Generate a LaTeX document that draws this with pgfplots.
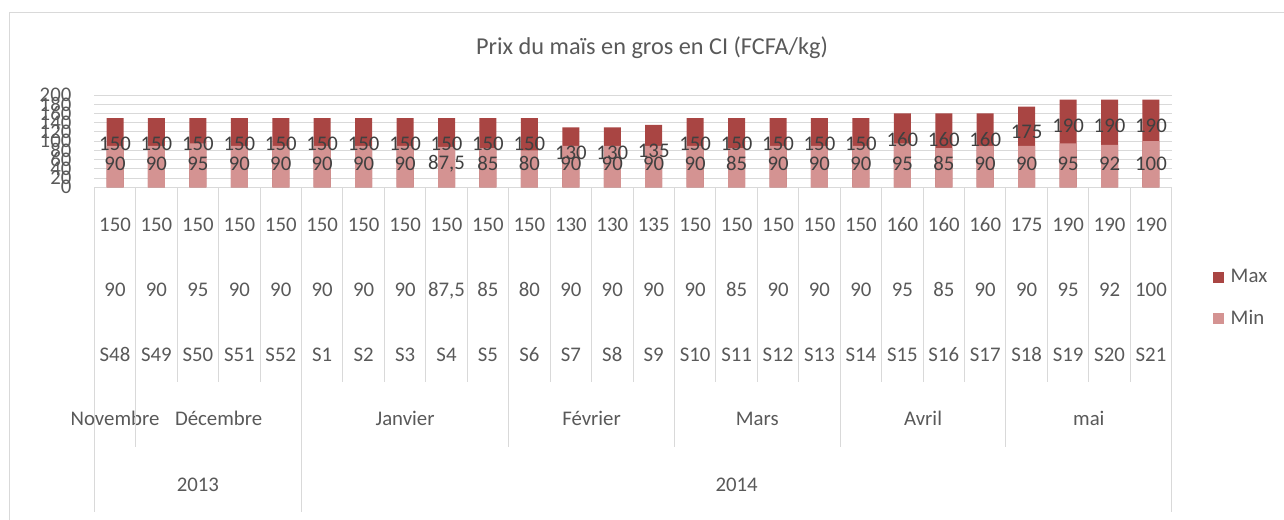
\documentclass[border=0pt]{standalone}
\usepackage{pgfplots}
\pgfplotsset{compat=1.18}
\usepackage{fontspec}
\setmainfont{Carlito}
\definecolor{maxc}{HTML}{A94543}
\definecolor{minc}{HTML}{D49392}
\definecolor{gridc}{HTML}{D9D9D9}
\definecolor{txt}{HTML}{595959}
\definecolor{lbl}{HTML}{404040}
\newcommand{\tf}{\fontsize{15.6pt}{48.9pt}\selectfont}
\begin{document}
\begin{tikzpicture}
\useasboundingbox (0,0) rectangle (963pt,-390pt);
\draw[gridc, line width=1pt] (7.1pt,-9.4pt) rectangle (990pt,-410pt);
\node[anchor=base, text=txt, font=\fontsize{18.2pt}{22pt}\selectfont, inner sep=0pt] at (489pt,-41.25pt) {Prix du maïs en gros en CI (FCFA/kg)};
\pgfplotsset{tabaxis/.style={
  at={(70.725pt,-140.475pt)}, anchor=south west, scale only axis,
  width=808.05pt, height=69.225pt,
  xmin=-0.5, xmax=25.5, ymin=0, ymax=200,
  clip=false, axis line style={draw=none},
  tick align=outside, tick pos=left,
  major tick length=0pt,
  tick style={gridc, line width=0.75pt},
  xticklabel style={text=txt, font=\tf, align=center, anchor=base, inner sep=0pt},
  /pgf/number format/assume math mode=true,
}}
\begin{axis}[tabaxis,
  ybar, bar width=12.75pt,
  ytick={0,20,...,200}, ymajorgrids, grid style={gridc, line width=0.75pt},
  yticklabel style={text=txt, font=\tf, anchor=east, inner sep=0pt, xshift=-17pt},
  ytick style={draw=none},
  xtick={0,...,25},
  xticklabels={{150\\90\\S48},{150\\90\\S49},{150\\95\\S50},{150\\90\\S51},{150\\90\\S52},{150\\90\\S1},{150\\90\\S2},{150\\90\\S3},{150\\87,5\\S4},{150\\85\\S5},{150\\80\\S6},{130\\90\\S7},{130\\90\\S8},{135\\90\\S9},{150\\90\\S10},{150\\85\\S11},{150\\90\\S12},{150\\90\\S13},{150\\90\\S14},{160\\95\\S15},{160\\85\\S16},{160\\90\\S17},{175\\90\\S18},{190\\95\\S19},{190\\92\\S20},{190\\100\\S21}},
  xticklabel style={yshift=-130.6pt},
  minor xtick={-0.5,0.5,...,25.5},
  minor tick length=146pt,
  extra x ticks={2,15}, extra x tick labels={2013,2014},
  extra x tick style={grid=none, major tick length=0pt, xticklabel style={yshift=-97.7pt}},
  legend style={at={(axis description cs:1.0377,-1.2)}, anchor=west, draw=none, fill=none, inner sep=0pt,
    font=\fontsize{15.6pt}{18pt}\selectfont, text=txt, row sep=15pt,
    /tikz/every odd column/.style={column sep=3pt}},
  legend image code/.code={\fill[#1] (0pt,-4.3pt) rectangle (8.6pt,4.3pt);},
  legend cell align=left,
]
\addplot[fill=maxc, draw=none, bar shift=0pt, nodes near coords,
  every node near coord/.append style={anchor=center, yshift=-19.35pt, text=lbl, font=\tf}]
  coordinates {(0,150) (1,150) (2,150) (3,150) (4,150) (5,150) (6,150) (7,150) (8,150) (9,150) (10,150) (11,130) (12,130) (13,135) (14,150) (15,150) (16,150) (17,150) (18,150) (19,160) (20,160) (21,160) (22,175) (23,190) (24,190) (25,190)};
\addlegendentry{Max}
\addplot[fill=minc, draw=none, bar shift=0pt, nodes near coords, /pgf/number format/use comma,
  visualization depends on={y \as \rawy},
  every node near coord/.append style={anchor=center, yshift={17.5pt-0.34613pt*\rawy}, text=lbl, font=\tf}]
  coordinates {(0,90) (1,90) (2,95) (3,90) (4,90) (5,90) (6,90) (7,90) (8,87.5) (9,85) (10,80) (11,90) (12,90) (13,90) (14,90) (15,85) (16,90) (17,90) (18,90) (19,95) (20,85) (21,90) (22,90) (23,95) (24,92) (25,100)};
\addlegendentry{Min}
\end{axis}
\begin{axis}[tabaxis,
  ytick=\empty,
  xtick={0,2.5,7,11.5,15.5,19.5,23.5},
  xticklabels={Novembre,Décembre,Janvier,Février,Mars,Avril,mai},
  xticklabel style={yshift=-179pt},
  minor xtick={-0.5,4.5,25.5}, minor tick length=243.3pt,
  extra x ticks={0.5,9.5,13.5,17.5,21.5}, extra x tick labels={},
  extra x tick style={grid=none, major tick length=194.55pt},
]
\end{axis}
\end{tikzpicture}
\end{document}
